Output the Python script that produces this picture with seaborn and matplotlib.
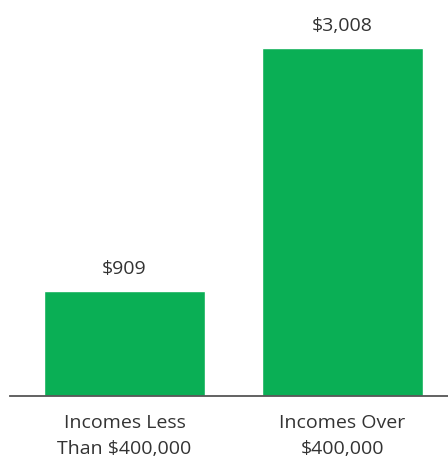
import matplotlib
matplotlib.use("Agg")
import matplotlib.pyplot as plt
import seaborn as sns
import pandas as pd

categories = ["Incomes Less\nThan $400,000", "Incomes Over\n$400,000"]
values = [909, 3008]
value_labels = ["$909", "$3,008"]

sns.set_theme(style="white")
plt.rcParams["font.family"] = ["Open Sans", "DejaVu Sans"]

df = pd.DataFrame({"group": categories, "amount": values})

fig = plt.figure(figsize=(4.48, 4.62), dpi=100)
ax = fig.add_axes([10 / 448, (462 - 396) / 462, 438 / 448, 396 / 462])

sns.barplot(data=df, x="group", y="amount", color="#0aaf55", saturation=1,
            width=0.74, ax=ax)

ax.set_xlim(-0.525, 1.484)
ax.set_ylim(0, 3423)

for i, (v, lab) in enumerate(zip(values, value_labels)):
    ax.annotate(lab, (i, v), xytext=(0, 22), textcoords="offset pixels",
                ha="center", va="center", fontsize=14, color="#333333")

for s in ["top", "right", "left"]:
    ax.spines[s].set_visible(False)
ax.spines["bottom"].set_color("#555555")
ax.spines["bottom"].set_linewidth(1.3)

ax.set_yticks([])
ax.set_xlabel("")
ax.set_ylabel("")
ax.tick_params(axis="x", length=0, pad=13, labelsize=14, labelcolor="#333333")
for t in ax.get_xticklabels():
    t.set_linespacing(1.55)

fig.savefig("out.png", dpi=100)
